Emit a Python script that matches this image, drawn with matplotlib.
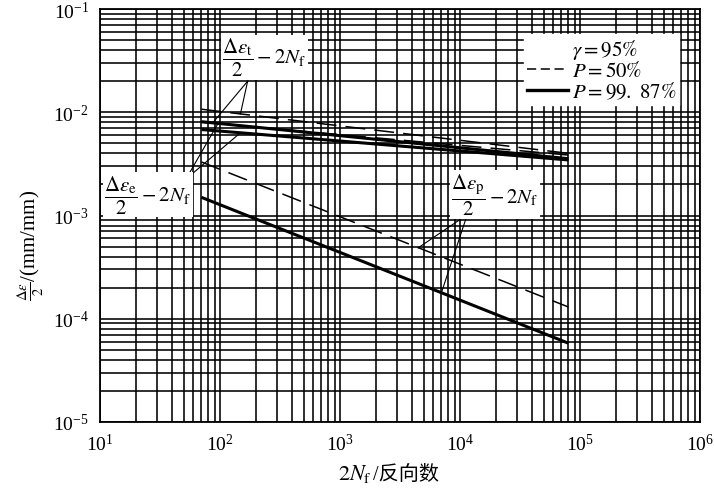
import numpy as np
import matplotlib.pyplot as plt
from matplotlib.lines import Line2D
from matplotlib.ticker import LogLocator, NullFormatter

plt.rcParams['font.family'] = ['Liberation Serif', 'Noto Sans CJK SC']
plt.rcParams['mathtext.fontset'] = 'stix'

# 2Nf 起止点 (反向数)
nf = [70, 8e4]

# 总应变幅 Δεt/2
total_50 = [1.07e-2, 4.0e-3]
total_9987 = [8.1e-3, 3.55e-3]
# 弹性应变幅 Δεe/2
elastic_50 = [8.0e-3, 3.85e-3]
elastic_9987 = [6.8e-3, 3.45e-3]
# 塑性应变幅 Δεp/2
plastic_50 = [3.3e-3, 1.3e-4]
plastic_9987 = [1.5e-3, 5.8e-5]

legend_labels = [r'$\gamma=95\%$', r'$P=50\%$', r'$P=99.\ 87\%$']


def on_line(n, ys):
    # 在双对数坐标下沿直线取值
    t = (np.log10(n) - np.log10(nf[0])) / (np.log10(nf[1]) - np.log10(nf[0]))
    return 10 ** (np.log10(ys[0]) + t * (np.log10(ys[1]) - np.log10(ys[0])))


fig = plt.figure(figsize=(7.14, 4.89), dpi=100)
ax = fig.add_axes([100 / 714, 66 / 489, 600 / 714, 413 / 489])
ax.set_xscale('log')
ax.set_yscale('log')
ax.set_xlim(1e1, 1e6)
ax.set_ylim(1e-5, 1e-1)

for axis in (ax.xaxis, ax.yaxis):
    axis.set_major_locator(LogLocator(base=10))
    axis.set_minor_locator(LogLocator(base=10, subs=range(2, 10)))
    axis.set_minor_formatter(NullFormatter())
ax.grid(which='both', color='k', lw=1.15)
ax.set_axisbelow(True)
ax.tick_params(which='both', length=0, labelsize=14, pad=8)
for s in ax.spines.values():
    s.set_linewidth(1.3)

dash = dict(color='k', lw=1.1, dashes=(13, 6))
solid = dict(color='k', lw=2.2, solid_capstyle='butt')
ax.plot(nf, total_50, **dash)
ax.plot(nf, elastic_50, **dash)
ax.plot(nf, plastic_50, **dash)
ax.plot(nf, total_9987, **solid)
ax.plot(nf, elastic_9987, **solid)
ax.plot(nf, plastic_9987, **solid)


def pointer(label_xy, apex, targets, text):
    for n, ys in targets:
        ax.plot([apex[0], n], [apex[1], on_line(n, ys)], color='k', lw=0.8)
    ax.text(label_xy[0], label_xy[1], text, ha='center', va='center', fontsize=15,
            bbox=dict(fc='white', ec='none', pad=1), zorder=5)


pointer((235, 3.4e-2), (170, 2.0e-2), [(87, total_9987), (148, total_50)],
        r'$\dfrac{\Delta\varepsilon_{\rm t}}{2}-2N_{\rm f}$')
pointer((25, 1.6e-3), (52, 2.25e-3), [(96, elastic_50), (148, elastic_9987)],
        r'$\dfrac{\Delta\varepsilon_{\rm e}}{2}-2N_{\rm f}$')
pointer((1.95e4, 1.6e-3), (1.15e4, 1.02e-3), [(4.5e3, plastic_50), (7.0e3, plastic_9987)],
        r'$\dfrac{\Delta\varepsilon_{\rm p}}{2}-2N_{\rm f}$')

handles = [Line2D([], [], color='none'),
           Line2D([], [], color='k', lw=1.1, dashes=(6, 3)),
           Line2D([], [], color='k', lw=2.4)]
leg = ax.legend(handles, legend_labels, loc='upper right', bbox_to_anchor=(0.965, 0.94),
                fontsize=15, frameon=True, fancybox=False, framealpha=1,
                edgecolor='white', handlelength=2.0, handletextpad=0.15,
                labelspacing=0.0, borderpad=0.15, borderaxespad=0)
leg.set_zorder(6)

# 横坐标名称: 数学部分与中文分开写, 以便中文字体生效
fig.text(372 / 714, 9 / 489, r'$2N_{\rm f}$', fontsize=16, ha='right', va='baseline')
fig.text(373 / 714, 9 / 489, '/反向数', fontsize=14.5, ha='left', va='baseline')

ax.set_ylabel(r'$\frac{\Delta\varepsilon}{2}$/(mm/mm)', fontsize=15)
ax.yaxis.set_label_coords(-0.09, 0.43)

fig.savefig('out.png', dpi=100)
